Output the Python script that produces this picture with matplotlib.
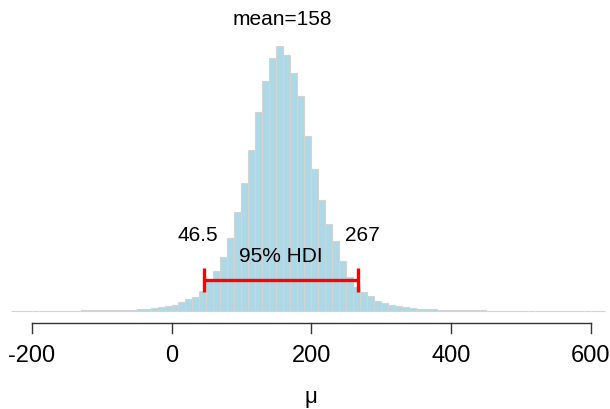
import matplotlib
matplotlib.use("Agg")
import matplotlib.pyplot as plt
import numpy as np

# posterior samples of mu, binned (bin width 10, left edges)
bin_left = list(range(-230, 620, 10))
counts = [4, 5, 5, 7, 7, 8, 8, 10, 11, 12, 14, 16, 19, 22, 25, 27, 31, 35, 46, 63,
          82, 109, 131, 171, 237, 316, 381, 553, 803, 1089, 1462, 1987, 2689, 3479,
          4377, 5411, 6247, 6881, 7200, 6955, 6465, 5839, 4750, 3865, 3021, 2368,
          1919, 1361, 925, 645, 525, 400, 280, 210, 163, 128, 101, 73, 63, 54, 46,
          35, 30, 25, 22, 19, 16, 14, 12, 11, 10, 8, 8, 7, 7, 6, 6, 5, 5, 5, 4, 4,
          4, 4, 4]
bin_width = 10
mean_mu = 158
hdi = [46.5, 267]
hdi_labels = ["46.5", "267"]
xticks = [-200, 0, 200, 400, 600]

plt.rcParams['font.family'] = ['Liberation Sans', 'DejaVu Sans']

fig = plt.figure(figsize=(6.1, 4.1), dpi=100)
ax = fig.add_axes([0, 0, 1, 1])

# pixel -> data scale
px = 27.22          # counts per pixel
def ypos(ypx):
    return (312 - ypx) * px

ax.bar(bin_left[:len(counts)], counts, width=bin_width, align='edge',
       color='#ADD8E6', edgecolor='#D3D3D3', linewidth=0.8)

# mean label
ax.text(mean_mu, ypos(20), "mean=" + str(mean_mu), ha='center', va='center', fontsize=15)

# HDI bar
ax.plot(hdi, [ypos(281)] * 2, color='red', lw=2.4, solid_capstyle='butt')
for h in hdi:
    ax.plot([h, h], [ypos(269), ypos(293)], color='red', lw=2.4, solid_capstyle='butt')
ax.text(np.mean(hdi), ypos(257), "95% HDI", ha='center', va='center', fontsize=15)
ax.text(hdi[0] - 8.5, ypos(236), hdi_labels[0], ha='center', va='center', fontsize=15)
ax.text(hdi[1] + 5.5, ypos(236), hdi_labels[1], ha='center', va='center', fontsize=15)

# x axis drawn by hand (R style)
ax.plot([xticks[0], xticks[-1]], [ypos(324)] * 2, color='#333333', lw=1)
for t in xticks:
    ax.plot([t, t], [ypos(324), ypos(334)], color='#333333', lw=1)
    ax.text(t, ypos(356), str(t), ha='center', va='center', fontsize=17)
ax.text(np.mean([xticks[0], xticks[-1]]), ypos(398), "μ", ha='center', va='center', fontsize=16)

ax.set_xlim(-171.5 / 0.699, (610 - 171.5) / 0.699)
ax.set_ylim(ypos(410), ypos(0))
ax.axis('off')

fig.savefig("out.png", dpi=100)
